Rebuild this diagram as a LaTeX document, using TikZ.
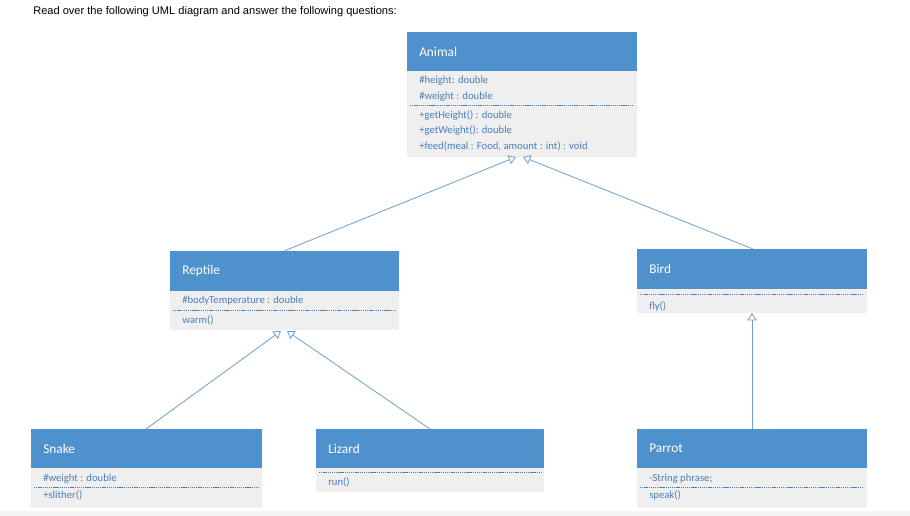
\documentclass[tikz,border=0pt]{standalone}
\usepackage{fontspec}
\setmainfont{Carlito}
\newfontfamily\arialfont{Liberation Sans}
\usetikzlibrary{arrows.meta}
\definecolor{umlhead}{HTML}{4F91CD}
\definecolor{umlbody}{HTML}{EFEFEF}
\definecolor{umltext}{HTML}{4A7EBB}
\definecolor{umlline}{HTML}{6C9DD3}
\begin{document}
\begin{tikzpicture}[x=0.75pt,y=-0.75pt]
% Set styles for class boxes and texts
\tikzset{
  head/.style={rectangle,fill=umlhead,text=white,anchor=north west,inner sep=0pt,font=\fontsize{10}{12}\selectfont},
  body/.style={rectangle,fill=umlbody,anchor=north west,inner sep=0pt},
  member/.style={anchor=west,inner sep=0pt,text=umltext,font=\fontsize{8}{10}\selectfont},
  sep/.style={umltext,dashed,dash pattern=on 1pt off 0.6pt,line width=0.4pt},
  inherit/.style={umlline,line width=0.6pt,-{Triangle[open,width=7pt,length=5.5pt]}}
}
\useasboundingbox (0,0) rectangle (910,516);
\fill[umlbody!60] (0,511) rectangle (910,516);
\node[anchor=west,inner sep=0pt,font=\arialfont\fontsize{8.3}{10}\selectfont] (title) at (33,12)
  {Read over the following UML diagram and answer the following questions:};
% Class boxes: name/x/y/width/header height/body height/text
\foreach \n/\x/\y/\w/\hh/\bh/\t in {
    animal/407/32/230/39/86/Animal,
    reptile/170/251/229/40/39/Reptile,
    bird/637/249/230/40/24/Bird,
    snake/31/429/231/39/40/Snake,
    lizard/316/429/228/39/24/Lizard,
    parrot/637/429/230/39/40/Parrot}
  {
  \node[body,minimum width=\w*0.75pt,minimum height=\bh*0.75pt] at (\x,\y+\hh) (\n b) {};
  \node[head,minimum width=\w*0.75pt,minimum height=\hh*0.75pt,text width=\w*0.75pt-10pt,align=left] at (\x,\y) (\n) {\hspace*{4pt}\t};
  }
% Members
\node[member] (a1) at (419,81) {\#height: double};
\node[member] (a2) at (419,97) {\#weight : double};
\node[member] (a3) at (419,116) {+getHeight() : double};
\node[member] (a4) at (419,131) {+getWeight(): double};
\node[member] (a5) at (419,146) {+feed(meal : Food, amount : int) : void};
\node[member] (r1) at (182,301) {\#bodyTemperature : double};
\node[member] (r2) at (182,320) {warm()};
\node[member] (b1) at (649,306) {fly()};
\node[member] (s1) at (43,479) {\#weight : double};
\node[member] (s2) at (43,495) {+slither()};
\node[member] (l1) at (328,482) {run()};
\node[member] (p1) at (649,479) {-String phrase;};
\node[member] (p2) at (649,495) {speak()};
% Separators
\draw[sep] (410,105) -- (634,105);
\draw[sep] (173,310) -- (396,310);
\draw[sep] (640,294) -- (864,294);
\draw[sep] (34,487) -- (259,487);
\draw[sep] (319,472) -- (541,472);
\draw[sep] (640,487) -- (864,487);
% Generalizations
\coordinate (ta1) at (516,157);
\coordinate (ta2) at (523,157);
\coordinate (tr1) at (281,331);
\coordinate (tr2) at (287,331);
\draw[inherit] (reptile.north -| 284,0) -- (ta1);
\draw[inherit] (bird.north -| 753,0) -- (ta2);
\draw[inherit] (snake.north -| 146,0) -- (tr1);
\draw[inherit] (lizard.north -| 430,0) -- (tr2);
\draw[inherit] (parrot.north -| 752,0) -- (752,313);
\end{tikzpicture}
\end{document}
